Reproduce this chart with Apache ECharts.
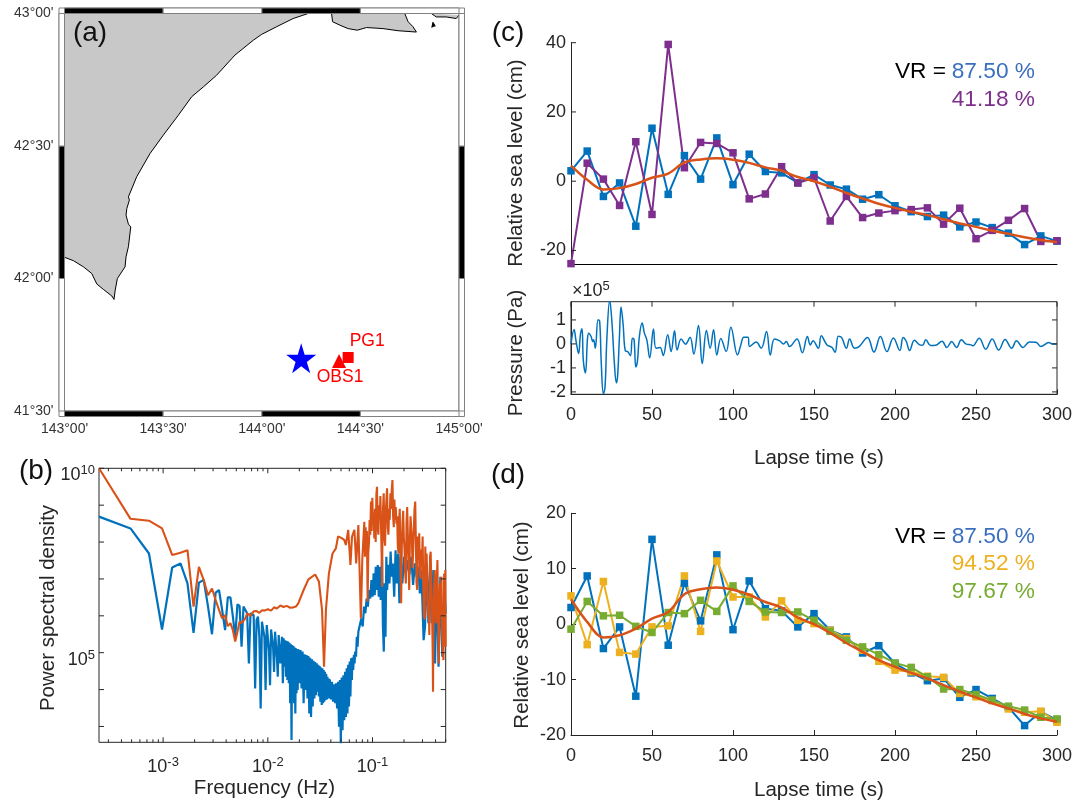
<!DOCTYPE html>
<html><head><meta charset="utf-8">
<style>html,body{margin:0;padding:0;background:#fff}#c{width:1090px;height:805px}</style>
<script src="https://cdn.jsdelivr.net/npm/echarts@6/dist/echarts.min.js"></script>
</head><body><div id="c"></div>
<script>
// ---------- (a) map, degrees ----------
const coastMainLon=[143,143.046,143.096,143.138,143.164,143.197,143.240,143.251,143.257,143.268,143.307,143.312,143.324,143.336,143.324,143.312,143.316,143.329,143.324,143.366,143.434,143.501,143.577,143.645,143.704,143.771,143.864,143.957,143.999,144.075,144.159,144.235];
const coastMainLat=[42.080,42.067,42.044,42.019,41.979,41.959,41.934,41.921,41.956,42.000,42.044,42.082,42.120,42.195,42.205,42.239,42.264,42.296,42.308,42.384,42.472,42.541,42.616,42.686,42.723,42.767,42.843,42.899,42.921,42.950,42.981,43];
const coastEastLon=[144.354,144.359,144.396,144.438,144.484,144.531,144.615,144.691,144.784,144.767,144.742,144.725];
const coastEastLat=[43,42.969,42.956,42.943,42.937,42.947,42.943,42.935,42.930,42.950,42.969,43];
const coastFarLon=[144.860,144.885,144.936,144.986,145];
const coastFarLat=[43,42.987,42.987,42.981,42.994];
const isleLon=[144.862,144.868,144.880];
const isleLat=[42.947,42.967,42.952];
const landCorner=[[143,43]];
const epicenter=[144.2,41.699];
const stationOBS1=[144.392,41.689];
const stationPG1=[144.438,41.702];
const lonBlack=[[143,143.5],[144,144.5]];
const lonWhite=[[143.5,144],[144.5,145]];
const latBlack=[[42,42.5]];
const latWhite=[[41.5,42],[42.5,43]];

// ---------- (b) PSD: [frequency bin (1/4096 Hz), log10 PSD] ----------
const psdBlue=[[1,8.69],[2,8.37],[3,7.69],[4,5.63],[5,7.31],[6,7.42],[7,6.88],[8,5.54],[9,6.90],[10,6.97],[11,6.25],[12,5.50],[13,6.63],[14,6.70],[15,6.16],[16,5.61],[17,6.50],[18,6.50],[19,5.98],[20,5.43],[21,6.31],[22,6.27],[23,5.16],[24,6.25],[25,6.16],[26,6.07],[27,4.71],[28,6.07],[29,6.11],[30,6.02],[31,4.03],[32,5.89],[33,5.98],[34,5.43],[35,3.49],[36,5.84],[37,5.87],[38,5.43],[39,3.99],[40,5.75],[41,5.71],[42,5.07],[43,4.12],[44,5.63],[45,5.61],[46,5.16],[47,4.48],[48,5.57],[49,5.54],[50,4.89],[51,4.35],[52,5.48],[53,5.45],[54,4.71],[55,4.71],[56,5.43],[57,4.17],[58,5.39],[59,4.62],[60,5.34],[61,4.35],[62,5.32],[63,4.26],[64,5.30],[65,4.17],[66,5.27],[67,3.63],[68,5.23],[69,2.63],[70,5.21],[71,3.99],[72,5.18],[73,3.63],[74,5.14],[75,3.35],[76,5.12],[77,3.90],[78,5.07],[79,3.99],
[80,5.10],[82,4.17],[84,5.07],[86,4.03],[88,5.03],[90,3.63],[92,4.96],[94,3.99],[96,4.94],[98,3.76],[100,4.91],[102,3.35],[104,4.86],[106,3.26],[108,4.82],[110,3.54],[112,4.78],[114,3.76],[116,4.75],[118,3.85],[120,4.71],[122,3.94],[124,4.67],[126,3.81],[128,4.64],[130,3.67],[132,4.60],[134,3.58],[136,4.58],[138,3.63],[140,4.53],[142,3.67],[144,4.48],[146,3.72],[148,4.42],[150,3.73],[152,4.35],[154,3.76],[156,4.30],[158,3.76],[160,4.28],
[164,3.73],[168,4.21],[172,3.67],[176,4.14],[180,3.63],[184,4.17],[188,3.49],[192,4.21],[196,2.99],[200,4.26],[204,2.54],[208,4.33],[212,2.90],[216,4.39],[220,3.17],[224,4.48],[228,3.26],[232,4.58],[236,3.35],[240,4.67],[244,3.54],[248,4.76],[252,3.81],[256,4.85],[260,4.26],[264,4.87],[268,4.53],[272,4.94],[276,4.71],[280,5.03],
[285,4.89],[290,5.43],[295,5.16],[300,5.57],[310,5.61],[320,5.93],[330,5.71],[340,6.25],[350,6.07],[360,6.47],[370,6.25],[380,6.70],[390,6.47],[400,6.97],[410,6.52],[420,7.15],[430,6.56],[440,7.33],[450,6.70],[460,7.38],[470,6.52],[480,7.33],[490,6.43],[505,7.51],[515,5.71],[525,5.03],[535,6.88],[545,5.43],[555,7.60],[565,6.70],[580,7.38],[595,6.88],[610,7.74],[625,7.06],[640,7.42],[660,6.52],[680,7.78],[700,6.88],[720,7.69],[740,6.34],[760,7.60],[790,6.88],[820,7.60],[850,7.15],[880,7.51],[920,7.11],[960,7.60],[1000,6.84],[1040,7.42],[1080,7.06],[1120,7.33],[1160,6.61],[1200,7.24],[1260,5.34],[1300,5.71],[1350,7.42],[1400,5.80],[1450,7.33],[1500,5.80],[1560,7.24],[1620,4.71],[1680,7.15],[1750,4.62],[1820,7.06],[1900,4.89],[2000,6.61],[2048,6.07]];
const psdOrange=[[1,10],[2,8.63],[3,8.58],[4,8.37],[5,7.65],[6,7.71],[7,7.78],[8,6.25],[9,7.33],[10,6.97],[11,6.56],[12,6.74],[13,6.43],[14,6.16],[15,5.93],[16,6.02],[17,5.72],[18,5.80],[19,5.61],[20,5.30],[21,5.57],[22,5.84],[23,5.80],[24,5.75],[25,5.93],[26,6.07],
[28,6.00],[30,6.12],[32,6.13],[34,6.08],[36,6.15],[38,6.14],[41,6.18],[44,6.14],[47,6.23],[50,6.20],[54,6.28],[58,6.24],[62,6.27],[67,6.22],[72,6.23],[76,6.25],[80,6.34],[90,6.70],[100,6.99],[116,7.12],[126,6.93],[135,6.16],[141,4.62],[147,6.16],[157,7.15],[170,7.69],[183,7.83],[192,8.15],[204,8.12],[220,8.06],[228,7.92],[240,8.33],[252,7.38],[261,8.15],[275,8.33],[286,7.42],[300,8.46],[317,5.93],[327,7.51],
[342,8.55],[347,7.6],[352,8.4],[357,7.9],[362,8.3],[368,6.38],[373,7.7],[379,8.0],[384,8.6],[390,8.2],[396,9.1],[402,8.3],[408,9.2],[414,8.5],[420,8.8],[426,8.1],[433,8.9],[439,8.0],[446,9.3],[452,9.5],[459,8.4],[466,8.2],[473,9.0],[480,8.6],[487,9.25],[494,9.3],[501,7.6],[505,6.79],[509,8.0],[516,8.9],[524,9.32],[532,8.1],[540,7.9],[548,8.8],[556,9.14],[564,9.46],[573,8.4],[581,8.2],[590,8.9],[598,8.6],[607,9.32],[616,8.9],[625,9.4],[635,9.68],[644,8.7],[654,8.4],[663,9.15],[673,8.6],[683,8.95],[693,8.5],[704,8.7],[714,7.9],[725,7.7],[735,8.6],[746,8.9],[757,7.4],[769,6.34],[780,7.9],[792,8.5],[804,8.85],[816,8.1],[828,7.8],[840,7.2],[853,6.88],[865,8.5],[878,8.95],[891,8.2],[904,7.5],[918,6.70],[931,8.0],[945,8.7],[959,8.4],[973,8.1],[988,7.3],[1002,7.8],[1017,8.4],[1032,8.9],[1048,9.1],[1063,7.97],[1079,6.9],[1095,6.7],[1111,8.15],[1128,7.6],[1145,8.24],[1162,7.2],[1179,7.0],[1197,7.8],[1215,7.4],[1233,8.15],[1251,6.8],[1270,6.0],[1289,5.9],[1308,7.88],[1327,6.9],[1347,7.69],[1367,6.5],[1387,5.98],[1408,6.3],[1429,5.48],[1450,7.6],[1472,7.74],[1494,6.8],[1516,6.16],[1539,5.0],[1550,3.94],[1562,5.5],[1585,6.7],[1609,7.24],[1633,6.2],[1657,5.8],[1682,6.9],[1707,7.51],[1732,6.16],[1758,4.71],[1784,6.0],[1811,6.88],[1838,6.0],[1865,7.06],[1893,5.6],[1921,5.07],[1950,4.80],[1979,7.15],[2008,5.25],[2030,7.24],[2048,5.16]];
const psdFreqMajor=[1e-3,1e-2,1e-1];
const psdFreqMinor=[3e-4,4e-4,5e-4,6e-4,7e-4,8e-4,9e-4,2e-3,3e-3,4e-3,5e-3,6e-3,7e-3,8e-3,9e-3,2e-2,3e-2,4e-2,5e-2,6e-2,7e-2,8e-2,9e-2,2e-1,3e-1,4e-1,5e-1];
const psdPowerTicks=[1e3,1e4,1e5,1e6,1e7,1e8,1e9,1e10];
const psdPowerLabels=[1e5,1e10];

// ---------- (c), (d) sea level ----------
const lapse=[0,10,20,30,40,50,60,70,80,90,100,110,120,130,140,150,160,170,180,190,200,210,220,230,240,250,260,270,280,290,300];
const seaBlue=[3.0,8.7,-4.4,-0.5,-13.0,15.3,-3.8,7.4,0.6,12.5,-1.0,7.8,2.8,2.4,-0.5,1.9,-1.1,-2.3,-5.2,-3.9,-7.1,-8.8,-10.2,-9.8,-13.2,-11.8,-13.4,-15.0,-18.3,-15.8,-17.3];
const seaPurple=[-23.8,5.2,0.6,-7.0,11.4,-9.6,39.5,3.9,11.2,10.9,8.2,-5.1,-3.7,4.2,-0.5,1.0,-11.5,-4.4,-10.5,-9.2,-8.5,-8.2,-7.7,-12.4,-7.8,-16.6,-14.2,-11.3,-7.9,-17.4,-17.2];
const seaOrange=[4.5,0.4,-2.4,-2.0,-0.8,1.0,2.2,5.4,6.3,6.6,6.2,5.3,4.0,3.0,1.2,0.0,-1.6,-3.4,-5.0,-6.5,-7.7,-8.8,-9.8,-11.0,-12.2,-13.2,-14.3,-15.2,-16.2,-17.0,-17.6];
const seaYellow=[5.1,-3.7,7.7,-5.1,-5.4,-0.5,-0.3,8.7,-1.3,11.4,4.9,4.9,1.3,4.2,0.7,0.1,-1.1,-2.6,-4.7,-6.7,-8.3,-8.6,-9.4,-9.6,-12.5,-13.1,-13.8,-15.3,-15.9,-15.7,-17.7];
const seaGreen=[-0.9,4.1,1.5,1.6,-0.4,-1.5,2.1,1.9,4.3,2.3,6.9,4.1,2.2,2.1,2.2,0.7,-1.3,-2.9,-4.1,-5.5,-7.0,-7.8,-9.5,-11.7,-11.8,-12.7,-13.7,-14.8,-15.5,-16.8,-17.1];
const pressureTime=[0,1.9,3,4.7,5.8,6.8,7.6,8.9,10.2,11,12.4,13.4,14,15,16.7,17.7,18.7,20,21,22.2,23.9,25.3,26.8,28,28.8,29.9,30.9,32.1,33.6,35,36.7,37.9,38.9,40,41,42.2,43.9,45.3,46.8,48.6,50.9,52.5,55,56.9,59.7,61.8,63.9,65.5,68,70.7,73.5,75.8,78.7,81,83.6,85.9,88,90,92.5,95.8,98.7,102.8,104.7,106.7,109.2,110.2,114.3,117.4,120.7,123,125.6,128.8,131.2,132.9,134.9,139.5,142.8,145.9,147.7,149.4,152.7,154.5,158,161,163,165,167,170,172,175,178,183,187,191,195,199,203,205,207,209,212,215,217,219,222,225,229,232,235,238,241,244,247,248,252,256,260,264,268,272,275,279,283,287,290,295,297,300];
const pressureValue=[0,0.6,0.17,-0.4,0.38,0.63,-0.68,-1.21,0.24,0.45,0.31,0.1,0.17,-0.18,1.01,0.94,-0.82,-2.08,-1.8,0.31,1.83,0.87,-0.82,-1.62,-1.31,0.31,1.54,0.87,-0.3,-0.32,-0.49,0.24,0.2,-0.96,-0.72,0.31,0.87,0.45,0.17,-0.58,0.62,-0.18,-0.15,-0.48,0.38,-0.32,0.55,-0.25,0.2,-0.01,0.28,-0.42,0.77,-0.82,0.56,-0.18,0.59,-0.46,0.23,-0.32,0.7,-0.46,-0.08,0.28,0.28,-0.11,0.08,-0.18,0.52,-0.46,0.2,0.13,0,0.1,-0.11,0.21,-0.37,0.31,-0.04,0.13,-0.18,0.34,-0.04,-0.14,-0.35,0.32,0.27,-0.18,0.21,-0.18,-0.1,0.27,-0.34,0.31,-0.32,0.25,-0.27,0.27,0.1,-0.27,0.15,-0.03,-0.06,0.17,-0.07,-0.06,0.11,-0.15,0.1,-0.15,0.17,-0.01,-0.04,-0.08,0.24,-0.22,0.21,-0.25,0.18,-0.18,0.13,-0.15,0.08,0.07,-0.11,0.06,0,0];
const seaTicksC=[-20,0,20,40];
const pressureTicks=[-2,-1,0,1];
const lapseTicks=[0,50,100,150,200,250,300];

// ---------- styles ----------
const INK='#262626',FONT='"Liberation Sans",Arial,sans-serif';
const BLUE='#0072BD',ORANGE='#D95319',PURPLE='#7E2F8E',YELLOW='#EDB120',GREEN='#77AC30';
const zipXY=(a,b)=>a.map((v,i)=>[v,b[i]]);

function ticks(idx,values,orient,at,sign,len,name){
  return {type:'custom',name:name||'ticks',xAxisIndex:idx,yAxisIndex:idx,clip:false,silent:true,z:5,
    data:values.map(v=>orient==='x'?[v,at]:[at,v]),
    renderItem(p,api){
      const c=api.coord([api.value(0),api.value(1)]);
      const s=orient==='x'?{x1:c[0],x2:c[0],y1:c[1],y2:c[1]+sign*len}:{x1:c[0],x2:c[0]+sign*len,y1:c[1],y2:c[1]};
      return {type:'line',shape:s,style:{stroke:INK,lineWidth:1}};
    }};
}
function expLabels(idx,values,orient,at,dx,dy,align){
  return {type:'custom',name:'psd labels',xAxisIndex:idx,yAxisIndex:idx,clip:false,silent:true,z:6,
    data:values.map(v=>orient==='x'?[v,at]:[at,v]),
    renderItem(p,api){
      const c=api.coord([api.value(0),api.value(1)]);
      const e=Math.round(Math.log10(orient==='x'?api.value(0):api.value(1)));
      return {type:'text',style:{x:c[0]+dx,y:c[1]+dy,align:align,verticalAlign:'middle',
        text:'{b|10}{s|'+e+'}',rich:{b:{fontSize:18,fontFamily:FONT,fill:INK,color:INK},
        s:{fontSize:13,fontFamily:FONT,fill:INK,color:INK,verticalAlign:'bottom',padding:[0,0,9,0]}}}};
    }};
}
function band(list,side,fill){
  return {type:'custom',name:'frame band',xAxisIndex:0,yAxisIndex:0,clip:false,silent:true,z:4,
    data:list.map(r=>[r[0],r[1]]),
    renderItem(p,api){
      const a=api.value(0),b=api.value(1),w=5.5;let p1,p2;
      if(side==='top'){p1=api.coord([a,43]);p2=api.coord([b,43]);return rect(p1[0],p1[1]-w,p2[0]-p1[0],w,fill);}
      if(side==='bottom'){p1=api.coord([a,41.5]);p2=api.coord([b,41.5]);return rect(p1[0],p1[1],p2[0]-p1[0],w,fill);}
      if(side==='left'){p1=api.coord([143,b]);p2=api.coord([143,a]);return rect(p1[0]-w,p1[1],w,p2[1]-p1[1],fill);}
      p1=api.coord([145,b]);p2=api.coord([145,a]);return rect(p1[0],p1[1],w,p2[1]-p1[1],fill);
    }};
}
function rect(x,y,w,h,fill){return {type:'rect',shape:{x,y,width:w,height:h},style:{fill,stroke:'#808080',lineWidth:1}};}
function landPoly(lon,lat,name,extra,fill){
  const d=zipXY(lon,lat);
  const poly=d.concat(extra||[]);
  return {type:'custom',name,xAxisIndex:0,yAxisIndex:0,clip:true,silent:true,z:2,data:[d[0]],
    renderItem(p,api){
      return {type:'group',children:[
        {type:'polygon',shape:{points:poly.map(q=>api.coord(q))},style:{fill:fill||'#C8C8C8',stroke:null}},
        {type:'polyline',shape:{points:d.map(q=>api.coord(q))},style:{fill:null,stroke:'#000',lineWidth:1}}]};
    }};
}
function sea(idx,name,vals,color,marker){
  return {type:'line',name,xAxisIndex:idx,yAxisIndex:idx,data:zipXY(lapse,vals),
    symbol:marker?'rect':'none',symbolSize:7.5,showAllSymbol:true,smooth:marker?false:0.35,
    lineStyle:{color,width:marker?2:2.5},itemStyle:{color},z:marker?3:4,animation:false};
}
function T(x,y,text,o){o=o||{};
  return {type:'text',x,y,rotation:o.rot||0,z:20,style:{text,font:(o.size||20.5)+'px '+FONT,fill:o.fill||INK,
    align:o.align||'center',verticalAlign:'middle'}};
}
const axisBase=(o)=>Object.assign({type:'value',splitLine:{show:false},axisLine:{show:true,onZero:false,lineStyle:{color:INK,width:1}},
  axisTick:{show:true,inside:true,length:5,lineStyle:{color:INK}},
  axisLabel:{color:INK,fontSize:18,fontFamily:FONT}},o);
const dm=v=>{const d=Math.floor(v+1e-6),m=Math.round((v-d)*60);return d+'°'+String(m).padStart(2,'0')+"'";};
const mapLabel={color:'#333',fontSize:14,fontFamily:FONT,showMinLabel:true,showMaxLabel:true,formatter:dm};

const option={animation:false,backgroundColor:'#fff',
 grid:[
  {left:64.5,top:13.5,width:394.5,height:397.5},
  {left:99,top:468.3,width:346.7,height:274,show:true,borderColor:INK,borderWidth:1,backgroundColor:'transparent'},
  {left:571,top:42.7,width:486,height:221.6},
  {left:571,top:301.7,width:486,height:92.6,show:true,borderColor:INK,borderWidth:1,backgroundColor:'transparent'},
  {left:571,top:513.3,width:486,height:221.7}],
 xAxis:[
  {type:'value',gridIndex:0,min:143,max:145,interval:0.5,splitLine:{show:false},axisLine:{show:false},axisTick:{show:false},axisLabel:Object.assign({margin:11},mapLabel)},
  {type:'log',gridIndex:1,min:1/4096,max:0.5,splitLine:{show:false},axisLine:{show:false},axisTick:{show:false},axisLabel:{show:false}},
  axisBase({gridIndex:2,min:0,max:300,interval:50,axisTick:{show:false},axisLabel:{show:false},axisLine:{show:true,onZero:false,lineStyle:{color:'#000',width:1}}}),
  axisBase({gridIndex:3,min:0,max:300,interval:50,axisLabel:{color:INK,fontSize:18,fontFamily:FONT,margin:12}}),
  axisBase({gridIndex:4,min:0,max:300,interval:50,axisLabel:{color:INK,fontSize:18,fontFamily:FONT,margin:12}})],
 yAxis:[
  {type:'value',gridIndex:0,min:41.5,max:43,interval:0.5,splitLine:{show:false},axisLine:{show:false},axisTick:{show:false},axisLabel:Object.assign({margin:11,padding:[3,0,0,0]},mapLabel)},
  {type:'log',gridIndex:1,min:372,max:1e10,splitLine:{show:false},axisLine:{show:false},axisTick:{show:false},axisLabel:{show:false}},
  axisBase({gridIndex:2,min:-24,max:40,interval:4,axisTick:{show:false},axisLabel:{color:INK,fontSize:18,fontFamily:FONT,margin:5,padding:[2,0,0,0],formatter:v=>(Math.round(v)%20===0?String(Math.round(v)):'')}}),
  axisBase({gridIndex:3,min:-2.1,max:1.76,interval:0.1,axisTick:{show:false},axisLabel:{color:INK,fontSize:18,fontFamily:FONT,margin:5,padding:[2,0,0,0],formatter:v=>(Math.abs(v-Math.round(v))<1e-6?String(Math.round(v)):'')}}),
  axisBase({gridIndex:4,min:-20,max:20,interval:10,axisLabel:{color:INK,fontSize:18,fontFamily:FONT,margin:5,padding:[2,0,0,0]}})],
 series:[
  landPoly(coastMainLon,coastMainLat,'Coast',landCorner),
  landPoly(coastEastLon,coastEastLat,'Coast east'),
  landPoly(coastFarLon,coastFarLat,'Coast far'),
  landPoly(isleLon,isleLat,'Islet',null,'#000'),
  band(lonBlack,'top','#000'),band(lonWhite,'top','#fff'),band(lonBlack,'bottom','#000'),band(lonWhite,'bottom','#fff'),
  band(latBlack,'left','#000'),band(latWhite,'left','#fff'),band(latBlack,'right','#000'),band(latWhite,'right','#fff'),
  {type:'custom',name:'map frame',xAxisIndex:0,yAxisIndex:0,clip:false,silent:true,z:3,data:[[143,43]],
   renderItem(p,api){const a=api.coord([143,43]),b=api.coord([145,41.5]),w=5.5;
    return {type:'group',children:[
     {type:'rect',shape:{x:a[0]-w,y:a[1]-w,width:b[0]-a[0]+2*w,height:b[1]-a[1]+2*w},style:{fill:null,stroke:'#808080',lineWidth:1}},
     {type:'rect',shape:{x:a[0],y:a[1],width:b[0]-a[0],height:b[1]-a[1]},style:{fill:null,stroke:'#707070',lineWidth:1}}]};}},
  {type:'scatter',name:'Epicenter',xAxisIndex:0,yAxisIndex:0,data:[epicenter],symbol:'path://M50 0 L61 35 L98 35 L68 57 L79 91 L50 70 L21 91 L32 57 L2 35 L39 35 Z',symbolSize:30,itemStyle:{color:'#0000FF',opacity:1},z:6},
  {type:'scatter',name:'OBS1',xAxisIndex:0,yAxisIndex:0,data:[stationOBS1],symbol:'triangle',symbolSize:14,itemStyle:{color:'#FF0000',opacity:1},z:6,
   label:{show:true,position:'inside',offset:[1,16],formatter:'OBS1',color:'#FF0000',fontSize:17.5,fontFamily:FONT}},
  {type:'scatter',name:'PG1',xAxisIndex:0,yAxisIndex:0,data:[stationPG1],symbol:'rect',symbolSize:11,itemStyle:{color:'#FF0000',opacity:1},z:6,
   label:{show:true,position:'inside',offset:[19,-16],formatter:'PG1',color:'#FF0000',fontSize:17.5,fontFamily:FONT}},

  {type:'line',name:'PSD pressure',xAxisIndex:1,yAxisIndex:1,data:psdBlue.map(r=>[r[0]/4096,Math.pow(10,r[1])]),symbol:'none',lineStyle:{color:BLUE,width:2.2},z:2,clip:true},
  {type:'line',name:'PSD sea level',xAxisIndex:1,yAxisIndex:1,data:psdOrange.map(r=>[r[0]/4096,Math.pow(10,r[1])]),symbol:'none',lineStyle:{color:ORANGE,width:2.1},z:3,clip:true},
  ticks(1,psdFreqMajor,'x',372,-1,5),ticks(1,psdFreqMajor,'x',1e10,1,5),
  ticks(1,psdFreqMinor,'x',372,-1,3),ticks(1,psdFreqMinor,'x',1e10,1,3),
  ticks(1,psdPowerTicks,'y',1/4096,1,5),ticks(1,psdPowerTicks,'y',0.5,-1,5),
  expLabels(1,psdFreqMajor,'x',372,0,25,'center'),
  expLabels(1,psdPowerLabels,'y',1/4096,-4,7,'right'),

  sea(2,'Observed',seaBlue,BLUE,true),sea(2,'Inversion',seaPurple,PURPLE,true),sea(2,'Filtered',seaOrange,ORANGE,false),
  ticks(2,seaTicksC,'y',0,1,5),
  {type:'line',name:'Pressure',xAxisIndex:3,yAxisIndex:3,data:zipXY(pressureTime,pressureValue),symbol:'none',smooth:0.4,lineStyle:{color:BLUE,width:1.5},clip:true},
  ticks(3,pressureTicks,'y',0,1,5),ticks(3,pressureTicks,'y',300,-1,5),ticks(3,lapseTicks,'x',1.76,1,5),
  sea(4,'Observed',seaBlue,BLUE,true),sea(4,'Case 2',seaYellow,YELLOW,true),sea(4,'Case 3',seaGreen,GREEN,true),sea(4,'Filtered',seaOrange,ORANGE,false)
 ],
 graphic:[
  T(90,33,'(a)',{size:28,fill:'#111'}),T(36,471,'(b)',{size:28,fill:'#111'}),T(508,33,'(c)',{size:28,fill:'#111'}),T(508,475,'(d)',{size:28,fill:'#111'}),
  T(48,608,'Power spectral density',{rot:Math.PI/2}),T(264.5,788,'Frequency (Hz)'),
  T(516,163,'Relative sea level (cm)',{rot:Math.PI/2}),T(516,353,'Pressure (Pa)',{rot:Math.PI/2}),
  T(819,458,'Lapse time (s)'),T(522,625,'Relative sea level (cm)',{rot:Math.PI/2}),T(819,790,'Lapse time (s)'),
  {type:'text',x:572,y:291,z:20,style:{text:'×10{s|5}',font:'18px '+FONT,fill:INK,align:'left',verticalAlign:'middle',rich:{s:{fontSize:13,fontFamily:FONT,fill:INK,verticalAlign:'bottom',padding:[0,0,9,0]}}}},
  T(946,72,'VR =',{size:22.7,fill:'#000',align:'right'}),T(1035,72,'87.50 %',{size:22.7,fill:'#3A6FC0',align:'right'}),T(1035,100,'41.18 %',{size:22.7,fill:PURPLE,align:'right'}),
  T(946,537,'VR =',{size:22.7,fill:'#000',align:'right'}),T(1035,537,'87.50 %',{size:22.7,fill:'#3A6FC0',align:'right'}),T(1035,564,'94.52 %',{size:22.7,fill:YELLOW,align:'right'}),T(1035,592,'97.67 %',{size:22.7,fill:GREEN,align:'right'})
 ]};
echarts.init(document.getElementById('c'),null,{renderer:'canvas'}).setOption(option);
</script></body></html>
